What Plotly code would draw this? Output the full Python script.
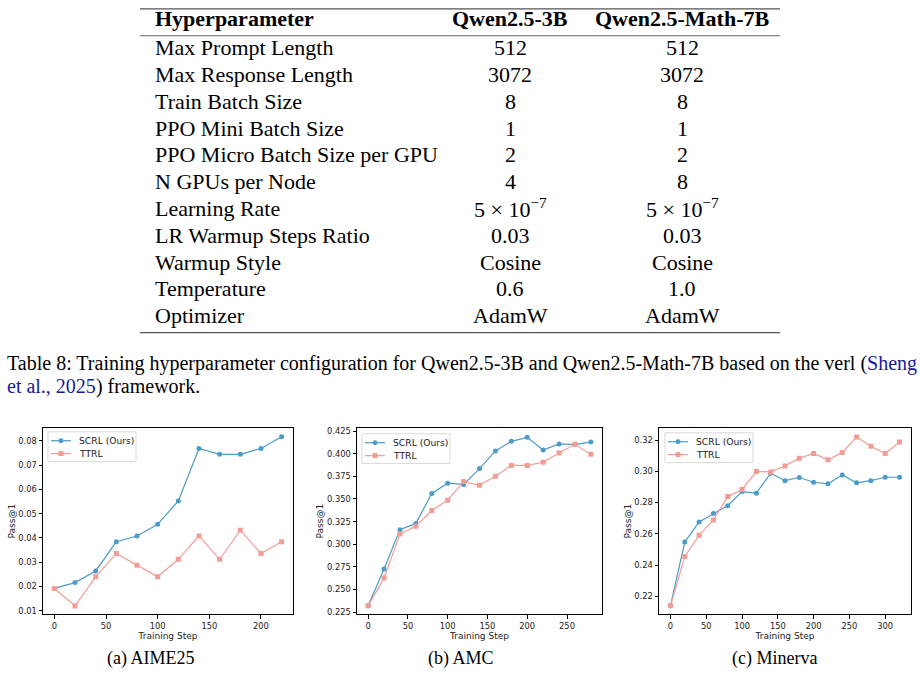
import plotly.graph_objects as go

W, H = 920, 678

# ---------------- data ----------------
table_header = ["Hyperparameter", "Qwen2.5-3B", "Qwen2.5-Math-7B"]
table_params = ["Max Prompt Length", "Max Response Length", "Train Batch Size",
                "PPO Mini Batch Size", "PPO Micro Batch Size per GPU", "N GPUs per Node",
                "Learning Rate", "LR Warmup Steps Ratio", "Warmup Style", "Temperature",
                "Optimizer"]
col_3b = ["512", "3072", "8", "1", "2", "4", "5 × 10<sup>−7</sup>", "0.03", "Cosine", "0.6", "AdamW"]
col_7b = ["512", "3072", "8", "1", "2", "8", "5 × 10<sup>−7</sup>", "0.03", "Cosine", "1.0", "AdamW"]

aime_steps = [0, 20, 40, 60, 80, 100, 120, 140, 160, 180, 200, 220]
aime_scrl = [0.0192, 0.0216, 0.0264, 0.0384, 0.0408, 0.0456, 0.0552, 0.0768, 0.0744, 0.0744, 0.0768, 0.0816]
aime_ttrl = [0.0192, 0.0120, 0.0240, 0.0336, 0.0288, 0.0240, 0.0312, 0.0408, 0.0312, 0.0432, 0.0336, 0.0384]

amc_steps = [0, 20, 40, 60, 80, 100, 120, 140, 160, 180, 200, 220, 240, 260, 280]
amc_scrl = [0.2320, 0.2727, 0.3160, 0.3230, 0.3560, 0.3674, 0.3660, 0.3835, 0.4030, 0.4136, 0.4180, 0.4040, 0.4107, 0.4100, 0.4130]
amc_ttrl = [0.2320, 0.2628, 0.3112, 0.3200, 0.3373, 0.3487, 0.3692, 0.3650, 0.3750, 0.3870, 0.3870, 0.3905, 0.4008, 0.4103, 0.3993]

min_steps = [0, 20, 40, 60, 80, 100, 120, 140, 160, 180, 200, 220, 240, 260, 280, 300, 320]
min_scrl = [0.2139, 0.2547, 0.2676, 0.2730, 0.2780, 0.2870, 0.2860, 0.2987, 0.2940, 0.2960, 0.2930, 0.2920, 0.2977, 0.2926, 0.2940, 0.2962, 0.2962]
min_ttrl = [0.2139, 0.2455, 0.2590, 0.2689, 0.2838, 0.2884, 0.2998, 0.2996, 0.3034, 0.3084, 0.3114, 0.3074, 0.3120, 0.3219, 0.3160, 0.3114, 0.3187]

series_names = ["SCRL (Ours)", "TTRL"]
sub_captions = ["(a) AIME25", "(b) AMC", "(c) Minerva"]
caption_line1 = ("Table 8: Training hyperparameter configuration for Qwen2.5-3B and "
                 "Qwen2.5-Math-7B based on the verl (<span style='color:#1a1a9c'>Sheng</span>")
caption_line2 = "<span style='color:#1a1a9c'>et al., 2025</span>) framework."

# ---------------- styles ----------------
SCRL_C = "#4c9bc8"
TTRL_C = "#f39c96"
SERIF = "Liberation Serif"
SANS = "DejaVu Sans"


def px(x):
    return x / W


def py(y):
    return 1 - y / H


fig = go.Figure()

panels = [
    dict(steps=aime_steps, a=aime_scrl, b=aime_ttrl, l=43, r=293, xr=[-11, 231], yr=[0.0085, 0.0853],
         dt=0.01, fmt=".2f", leg=(48, 433), cap=150),
    dict(steps=amc_steps, a=amc_scrl, b=amc_ttrl, l=357, r=602, xr=[-14, 294], yr=[0.2225, 0.4285],
         dt=0.025, fmt=".3f", leg=(362, 435), cap=461),
    dict(steps=min_steps, a=min_scrl, b=min_ttrl, l=659, r=911, xr=[-16, 336], yr=[0.2084, 0.3278],
         dt=0.02, fmt=".2f", leg=(665, 434), cap=774),
]
top, bot = 429, 617


def add_legend(x0, y0):
    # legend frame
    fig.add_shape(type="rect", xref="paper", yref="paper", x0=px(x0), x1=px(x0 + 88),
                  y0=py(y0), y1=py(y0 + 30), line=dict(color="#d0d0d0", width=0.8),
                  fillcolor="rgba(255,255,255,0.85)", layer="above")
    for j, (name, col, sym) in enumerate([(series_names[0], SCRL_C, "circle"),
                                          (series_names[1], TTRL_C, "rect")]):
        yy = y0 + 9 + j * 13
        fig.add_shape(type="line", xref="paper", yref="paper", x0=px(x0 + 3), x1=px(x0 + 23),
                      y0=py(yy), y1=py(yy), line=dict(color=col, width=1.2), layer="above")
        r = 2.5
        fig.add_shape(type=sym, xref="paper", yref="paper", x0=px(x0 + 13 - r), x1=px(x0 + 13 + r),
                      y0=py(yy - r), y1=py(yy + r), line=dict(color=col, width=0),
                      fillcolor=col, layer="above")
        fig.add_annotation(text=name, x=px(x0 + 29), y=py(yy), xref="paper", yref="paper",
                           xanchor="left", yanchor="middle", showarrow=False,
                           font=dict(family=SANS, size=9.2, color="#222"))


for i, p in enumerate(panels):
    k = "" if i == 0 else str(i + 1)
    fig.add_trace(go.Scatter(x=p["steps"], y=p["a"], mode="lines+markers", name=series_names[0],
                             line=dict(color=SCRL_C, width=1.2),
                             marker=dict(symbol="circle", size=5, color=SCRL_C),
                             xaxis="x" + k, yaxis="y" + k, showlegend=False))
    fig.add_trace(go.Scatter(x=p["steps"], y=p["b"], mode="lines+markers", name=series_names[1],
                             line=dict(color=TTRL_C, width=1.2),
                             marker=dict(symbol="square", size=5, color=TTRL_C),
                             xaxis="x" + k, yaxis="y" + k, showlegend=False))
    axcommon = dict(showline=True, mirror=True, linecolor="black", linewidth=1, ticks="outside",
                    ticklen=3.5, tickwidth=0.8, tickcolor="black", showgrid=False, zeroline=False,
                    tickfont=dict(family=SANS, size=8.3, color="#222"))
    fig.update_layout(**{
        "xaxis" + k: dict(domain=[px(p["l"]), px(p["r"])], range=p["xr"], anchor="y" + k,
                          tick0=0, dtick=50,
                          title=dict(text="Training Step", font=dict(family=SANS, size=9, color="#222"),
                                     standoff=2), **axcommon),
        "yaxis" + k: dict(domain=[py(bot), py(top)], range=p["yr"], anchor="x" + k,
                          tick0=0, dtick=p["dt"], tickformat=p["fmt"],
                          title=dict(text="Pass@1", font=dict(family=SANS, size=9, color="#222"),
                                     standoff=1), **axcommon),
    })
    add_legend(*p["leg"])
    fig.add_annotation(text=sub_captions[i], x=px(p["cap"]), y=py(661),
                       xref="paper", yref="paper", showarrow=False, xanchor="center", yanchor="middle",
                       font=dict(family=SERIF, size=18, color="black"))

# ---------------- table ----------------
tl, tr = 140, 780
for yy, w in [(7, 1.3), (34, 0.9), (333, 1.3)]:
    fig.add_shape(type="line", xref="paper", yref="paper", x0=px(tl), x1=px(tr), y0=py(yy), y1=py(yy),
                  line=dict(color="#555", width=w))

c1, c2 = 510, 682
FS = 22
hy = 17
fig.add_annotation(text="<b>" + table_header[0] + "</b>", x=px(153), y=py(hy), xanchor="left",
                   yanchor="middle", xref="paper", yref="paper", showarrow=False,
                   font=dict(family=SERIF, size=FS, color="black"))
for txt, cx in [(table_header[1], c1), (table_header[2], c2)]:
    fig.add_annotation(text="<b>" + txt + "</b>", x=px(cx), y=py(hy), xanchor="center",
                       yanchor="middle", xref="paper", yref="paper", showarrow=False,
                       font=dict(family=SERIF, size=FS, color="black"))
for r, (name, v1, v2) in enumerate(zip(table_params, col_3b, col_7b)):
    yy = 46 + r * 27.0
    fig.add_annotation(text=name, x=px(153), y=py(yy), xanchor="left", yanchor="middle",
                       xref="paper", yref="paper", showarrow=False,
                       font=dict(family=SERIF, size=FS, color="black"))
    for v, cx in [(v1, c1), (v2, c2)]:
        fig.add_annotation(text=v, x=px(cx), y=py(yy), xanchor="center", yanchor="middle",
                           xref="paper", yref="paper", showarrow=False,
                           font=dict(family=SERIF, size=FS, color="black"))

# ---------------- caption ----------------
fig.add_annotation(text=caption_line1, x=px(5), y=py(364), xanchor="left", yanchor="middle",
                   xref="paper", yref="paper", showarrow=False,
                   font=dict(family=SERIF, size=20, color="black"))
fig.add_annotation(text=caption_line2, x=px(5), y=py(387), xanchor="left", yanchor="middle",
                   xref="paper", yref="paper", showarrow=False,
                   font=dict(family=SERIF, size=20, color="black"))

fig.update_layout(width=W, height=H, margin=dict(l=0, r=0, t=0, b=0),
                  paper_bgcolor="white", plot_bgcolor="white", showlegend=False)

fig.write_html("out.html")
